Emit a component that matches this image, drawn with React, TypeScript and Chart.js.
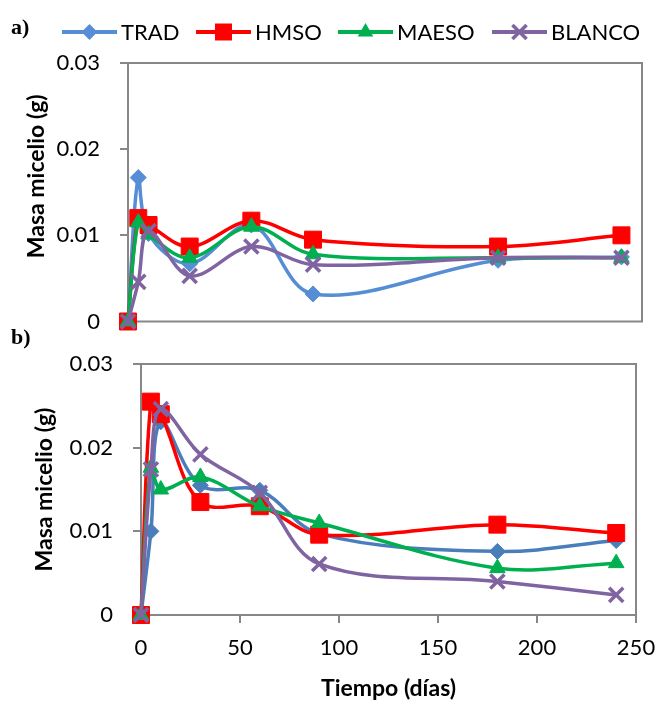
import React, { useEffect, useRef } from 'react';
import { Chart, registerables } from 'chart.js';

Chart.register(...registerables);

// ---- data ----
const days = [0, 5, 10, 30, 60, 90, 180, 240];
const seriesNames = ['TRAD', 'HMSO', 'MAESO', 'BLANCO'];

const tradA = [0, 0.0167, 0.0102, 0.0067, 0.0112, 0.0032, 0.0071, 0.0075];
const hmsoA = [0, 0.012, 0.0112, 0.0087, 0.0117, 0.0095, 0.0087, 0.01];
const maesoA = [0, 0.0115, 0.0101, 0.0074, 0.011, 0.0078, 0.0074, 0.0074];
const blancoA = [0, 0.0046, 0.0105, 0.0053, 0.0087, 0.0066, 0.0074, 0.0074];

const tradB = [0, 0.01, 0.0231, 0.0155, 0.0149, 0.0097, 0.0076, 0.0089];
const hmsoB = [0, 0.0255, 0.024, 0.0135, 0.013, 0.0096, 0.0108, 0.0098];
const maesoB = [0, 0.0176, 0.015, 0.0165, 0.013, 0.011, 0.0056, 0.0062];
const blancoB = [0, 0.0174, 0.0246, 0.0192, 0.0146, 0.0061, 0.004, 0.0024];

const yTickValues = [0, 0.01, 0.02, 0.03];
const xTickValues = [0, 50, 100, 150, 200, 250];

const yTitle = 'Masa micelio (g)';
const xTitle = 'Tiempo (días)';

// ---- styles ----
const colorsA = ['#558ED5', '#FF0000', '#00B050', '#8064A2'];
const colorsB = ['#4A7EBB', '#FF0000', '#00B050', '#8064A2'];
const pointStyles = ['rectRot', 'rect', 'triangle', 'crossRot'];
const pointRadii = [8, 12, 9, 10];
const axisGray = '#878787';
const FONT = 'Lato';
const titleFont = { family: FONT, size: 23, weight: 'bold' as const };

function makeDatasets(series: number[][], colors: string[]) {
  return series.map((vals, i) => ({
    label: seriesNames[i],
    data: days.map((d, j) => ({ x: d, y: vals[j] })),
    borderColor: colors[i],
    backgroundColor: colors[i],
    borderWidth: 3.5,
    pointStyle: pointStyles[i],
    pointRadius: pointRadii[i],
    pointBackgroundColor: colors[i],
    pointBorderColor: colors[i],
    pointBorderWidth: pointStyles[i] === 'crossRot' ? 3.5 : 1,
    tension: 0.35,
    clip: false,
    order: series.length - i,
  }));
}

function drawMarker(ctx: CanvasRenderingContext2D, style: string, x: number, y: number, r: number, color: string) {
  ctx.save();
  ctx.fillStyle = color;
  ctx.strokeStyle = color;
  ctx.beginPath();
  if (style === 'rectRot') {
    ctx.moveTo(x - r, y);
    ctx.lineTo(x, y - r);
    ctx.lineTo(x + r, y);
    ctx.lineTo(x, y + r);
    ctx.closePath();
    ctx.fill();
  } else if (style === 'rect') {
    const s = r * Math.SQRT1_2;
    ctx.rect(x - s, y - s, 2 * s, 2 * s);
    ctx.fill();
  } else if (style === 'triangle') {
    const edge = r * Math.sqrt(3);
    const h = edge * Math.sqrt(3) / 2;
    ctx.moveTo(x, y - (2 * h) / 3);
    ctx.lineTo(x - edge / 2, y + h / 3);
    ctx.lineTo(x + edge / 2, y + h / 3);
    ctx.closePath();
    ctx.fill();
  } else {
    const s = r * Math.SQRT1_2;
    ctx.lineWidth = 3.5;
    ctx.moveTo(x - s, y - s);
    ctx.lineTo(x + s, y + s);
    ctx.moveTo(x + s, y - s);
    ctx.lineTo(x - s, y + s);
    ctx.stroke();
  }
  ctx.restore();
}

const boxPlugin = {
  id: 'plotBox',
  beforeDatasetsDraw(chart: any) {
    const { ctx, chartArea } = chart;
    ctx.save();
    ctx.strokeStyle = axisGray;
    ctx.lineWidth = 2;
    ctx.strokeRect(chartArea.left, chartArea.top, chartArea.right - chartArea.left, chartArea.bottom - chartArea.top);
    ctx.restore();
  },
};

// y title of panel a), which sits a little above the plot's middle
const topYTitlePlugin = {
  id: 'topYTitle',
  afterDraw(chart: any) {
    const ctx: CanvasRenderingContext2D = chart.ctx;
    const area = chart.chartArea;
    ctx.save();
    ctx.translate(37, (area.top + area.bottom) / 2 - 16);
    ctx.rotate(-Math.PI / 2);
    ctx.font = `bold 23px ${FONT}`;
    ctx.fillStyle = '#000';
    ctx.textAlign = 'center';
    ctx.textBaseline = 'middle';
    ctx.fillText(yTitle, 0, 0);
    ctx.restore();
  },
};

const legendStartX = [62, 196, 338, 492];
const legendPlugin = {
  id: 'lineLegend',
  afterDraw(chart: any) {
    const ctx: CanvasRenderingContext2D = chart.ctx;
    const y = 32;
    ctx.save();
    ctx.font = `22px ${FONT}`;
    ctx.textBaseline = 'middle';
    chart.data.datasets.forEach((ds: any, i: number) => {
      const x = legendStartX[i];
      ctx.strokeStyle = ds.borderColor;
      ctx.lineWidth = 4;
      ctx.beginPath();
      ctx.moveTo(x, y);
      ctx.lineTo(x + 55, y);
      ctx.stroke();
      drawMarker(ctx, ds.pointStyle, x + 27.5, y, ds.pointRadius, ds.borderColor);
      ctx.fillStyle = '#000';
      ctx.textAlign = 'left';
      ctx.fillText(ds.label, x + 59, y + 1);
    });
    ctx.restore();
  },
};

function zeroPad(s: any) {
  s.paddingTop = 0;
  s.paddingBottom = 0;
  s.paddingLeft = 0;
  s.paddingRight = 0;
}

function yScale(width: number, showTitle: boolean) {
  return {
    type: 'linear' as const,
    min: 0,
    max: 0.03,
    afterFit: (s: any) => { s.width = width; zeroPad(s); },
    afterBuildTicks: (s: any) => { s.ticks = yTickValues.map((v) => ({ value: v })); },
    ticks: {
      font: { family: FONT, size: 22 },
      color: '#000',
      padding: 20,
      callback: (v: any) => (Number(v) === 0 ? '0' : Number(v).toFixed(2)),
    },
    grid: { drawOnChartArea: false, drawTicks: true, tickLength: 8, color: axisGray, lineWidth: 2 },
    border: { display: false },
    title: { display: showTitle, text: yTitle, color: '#000', font: titleFont },
  };
}

export default function App() {
  const topRef = useRef<HTMLCanvasElement>(null);
  const botRef = useRef<HTMLCanvasElement>(null);

  useEffect(() => {
    const top = new Chart(topRef.current!, {
      type: 'line',
      data: { datasets: makeDatasets([tradA, hmsoA, maesoA, blancoA], colorsA) as any },
      options: {
        responsive: false,
        animation: false,
        layout: { padding: { left: 19, top: 63, right: 17, bottom: 13 } },
        plugins: { legend: { display: false }, tooltip: { enabled: false } },
        scales: {
          x: { type: 'linear', min: 0, max: 250, display: false },
          y: yScale(109, false) as any,
        },
      },
      plugins: [boxPlugin, legendPlugin, topYTitlePlugin],
    });

    const bot = new Chart(botRef.current!, {
      type: 'line',
      data: { datasets: makeDatasets([tradB, hmsoB, maesoB, blancoB], colorsB) as any },
      options: {
        responsive: false,
        animation: false,
        layout: { padding: { left: 27, top: 29, right: 23, bottom: 0 } },
        plugins: { legend: { display: false }, tooltip: { enabled: false } },
        scales: {
          x: {
            type: 'linear',
            min: 0,
            max: 250,
            afterFit: (s: any) => { s.height = 87; zeroPad(s); },
            afterBuildTicks: (s: any) => { s.ticks = xTickValues.map((v) => ({ value: v })); },
            ticks: { font: { family: FONT, size: 22 }, color: '#000', padding: 12, maxRotation: 0 },
            grid: { drawOnChartArea: false, drawTicks: true, tickLength: 8, color: axisGray, lineWidth: 2 },
            border: { display: false },
            title: {
              display: true,
              text: xTitle,
              color: '#000',
              padding: { top: 0, bottom: 0 },
              font: titleFont,
            },
          },
          y: yScale(114, true) as any,
        },
      },
      plugins: [boxPlugin],
    });

    return () => {
      top.destroy();
      bot.destroy();
    };
  }, []);

  const labelStyle: React.CSSProperties = {
    position: 'absolute',
    left: 11,
    fontFamily: '"Liberation Serif", "Times New Roman", serif',
    fontWeight: 'bold',
    fontSize: 22,
    lineHeight: '24px',
    color: '#000',
  };

  return (
    <div style={{ position: 'absolute', left: 0, top: 0, width: 659, height: 702, background: '#fff' }}>
      <canvas ref={topRef} width={659} height={335} style={{ position: 'absolute', left: 0, top: 0 }} />
      <canvas ref={botRef} width={659} height={367} style={{ position: 'absolute', left: 0, top: 335 }} />
      <div style={{ ...labelStyle, top: 15 }}>a)</div>
      <div style={{ ...labelStyle, top: 325 }}>b)</div>
    </div>
  );
}
